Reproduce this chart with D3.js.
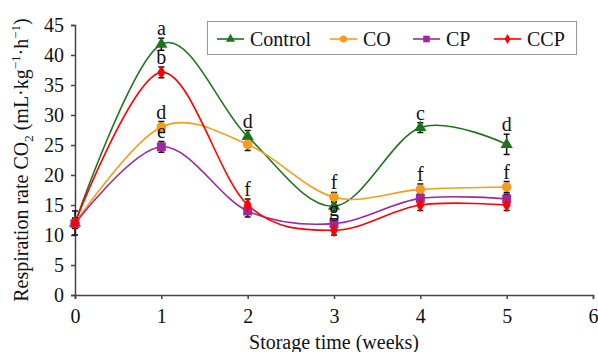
<!DOCTYPE html>
<html>
<head>
<meta charset="utf-8">
<script src="https://cdn.jsdelivr.net/npm/d3@7"></script>
<style>
  body { margin: 0; background: #fff; }
  svg, svg text { font-family: 'Liberation Serif', 'DejaVu Serif', 'Times New Roman', Times, serif !important; fill: #111; }
  .axis path, .axis line { stroke: #444; stroke-width: 1.5; }
  .axis text { font-size: 20px; }
</style>
</head>
<body>
<div class="chart-wrapper"></div>
<script>
// storage weeks and respiration (mL CO2 / kg / h)
const weeks = [0, 1, 2, 3, 4, 5];
const xTicks = [0, 1, 2, 3, 4, 5, 6];
const yTicks = [0, 5, 10, 15, 20, 25, 30, 35, 40, 45];

const seriesNames = ['Control', 'CO', 'CP', 'CCP'];

const controlVals = [12, 41.8, 26.4, 14.8, 27.9, 25.1];
const coVals = [12, 28, 25.1, 16.3, 17.6, 18];
const cpVals = [11.9, 24.7, 14, 11.9, 16.1, 16];
const ccpVals = [12, 37.1, 15, 10.8, 15, 15];

const controlErr = [2, 1, 1, 0.8, 0.8, 1.7];
const coErr = [0.8, 0.9, 1, 0.8, 0.9, 0.9];
const cpErr = [0.8, 0.9, 1, 0.8, 0.8, 0.8];
const ccpErr = [0.8, 0.9, 1, 0.8, 0.9, 0.9];

const controlLetters = ['', 'a', 'd', '', 'c', 'd'];
const coLetters = ['', 'd', '', 'f', 'f', 'f'];
const cpLetters = ['', 'e', '', 'g', '', ''];
const ccpLetters = ['', 'b', 'f', '', '', ''];

const width = 598, height = 352;
const serif = "'Liberation Serif', 'DejaVu Serif', serif";

const x = d3.scaleLinear().domain([0, 6]).range([75, 593]);
const y = d3.scaleLinear().domain([0, 45]).range([295, 25]);

const series = [
  {name: 'Control', vals: controlVals, err: controlErr, letters: controlLetters, color: '#1f731f', shape: d3.symbolTriangle, size: 64, lsize: 36},
  {name: 'CO', vals: coVals, err: coErr, letters: coLetters, color: '#f59c1a', shape: d3.symbolCircle, size: 72, lsize: 40},
  {name: 'CP', vals: cpVals, err: cpErr, letters: cpLetters, color: '#a0289c', shape: d3.symbolSquare, size: 80, lsize: 44},
  {name: 'CCP', vals: ccpVals, err: ccpErr, letters: ccpLetters, color: '#ff0000', shape: d3.symbolDiamond, size: 56, lsize: 30}
];

const svg = d3.select('.chart-wrapper')
  .append('svg')
  .attr('width', width)
  .attr('height', height)
  .attr('font-family', serif);

// axes
const xAxis = svg.append('g')
  .attr('class', 'axis')
  .attr('transform', `translate(0,${y(0)})`)
  .call(d3.axisBottom(x).tickValues(xTicks).tickFormat(d3.format('d')).tickSizeOuter(0).tickSize(4).tickPadding(10));

const yAxis = svg.append('g')
  .attr('class', 'axis')
  .attr('transform', `translate(${x(0)},0)`)
  .call(d3.axisLeft(y).tickValues(yTicks).tickSizeOuter(0).tickSize(4).tickPadding(7));

svg.selectAll('.axis').attr('font-family', serif).attr('font-size', 20);

// axis titles
svg.append('text')
  .attr('x', (x(0) + x(6)) / 2)
  .attr('y', 349)
  .attr('text-anchor', 'middle')
  .attr('font-size', 20)
  .text('Storage time (weeks)');

const yTitle = svg.append('text')
  .attr('transform', `translate(28,${(y(0) + y(45)) / 2}) rotate(-90)`)
  .attr('text-anchor', 'middle')
  .attr('font-size', 20);
yTitle.append('tspan').text('Respiration rate CO');
yTitle.append('tspan').attr('dy', 5).attr('font-size', 13).text('2');
yTitle.append('tspan').attr('dy', -5).text(' (mL·kg');
yTitle.append('tspan').attr('dy', -8).attr('font-size', 13).text('−1');
yTitle.append('tspan').attr('dy', 8).text('·h');
yTitle.append('tspan').attr('dy', -8).attr('font-size', 13).text('−1');
yTitle.append('tspan').attr('dy', 8).text(')');

const line = d3.line()
  .x((d, i) => x(weeks[i]))
  .y(d => y(d))
  .curve(d3.curveCardinal.tension(0));

const lines = svg.append('g');
const bars = svg.append('g');
const marks = svg.append('g');
const letters = svg.append('g');

series.forEach(s => {
  lines.append('path')
    .datum(s.vals)
    .attr('d', line)
    .attr('fill', 'none')
    .attr('stroke', s.color)
    .attr('stroke-width', 1.6);

  s.vals.forEach((v, i) => {
    let cx = x(weeks[i]);
    let top = y(v + s.err[i]);
    let bot = y(v - s.err[i]);

    bars.append('path')
      .attr('d', `M${cx - 3},${top}H${cx + 3}M${cx},${top}V${bot}M${cx - 3},${bot}H${cx + 3}`)
      .attr('stroke', '#111')
      .attr('stroke-width', 1.5)
      .attr('fill', 'none');

    marks.append('path')
      .attr('d', d3.symbol().type(s.shape).size(s.size)())
      .attr('transform', `translate(${cx},${y(v)})`)
      .attr('fill', s.color);

    if (s.letters[i] != '') {
      letters.append('text')
        .attr('x', cx)
        .attr('y', top - 3)
        .attr('text-anchor', 'middle')
        .attr('font-size', 20)
        .text(s.letters[i]);
    }
  });
});

// legend
const legend = svg.append('g');
legend.append('rect')
  .attr('x', 207.5)
  .attr('y', 21.5)
  .attr('width', 369)
  .attr('height', 33)
  .attr('fill', '#fff')
  .attr('stroke', '#999')
  .attr('stroke-width', 1);

const legendX = [217, 330, 413, 494];
series.forEach((s, i) => {
  let lx = legendX[i];
  legend.append('line')
    .attr('x1', lx).attr('x2', lx + 27)
    .attr('y1', 39).attr('y2', 39)
    .attr('stroke', s.color)
    .attr('stroke-width', 1.6);
  legend.append('path')
    .attr('d', d3.symbol().type(s.shape).size(s.lsize)())
    .attr('transform', `translate(${lx + 13.5},39)`)
    .attr('fill', s.color);
  legend.append('text')
    .attr('x', lx + 33)
    .attr('y', 46)
    .attr('font-size', 20)
    .text(seriesNames[i]);
});
</script>
</body>
</html>
